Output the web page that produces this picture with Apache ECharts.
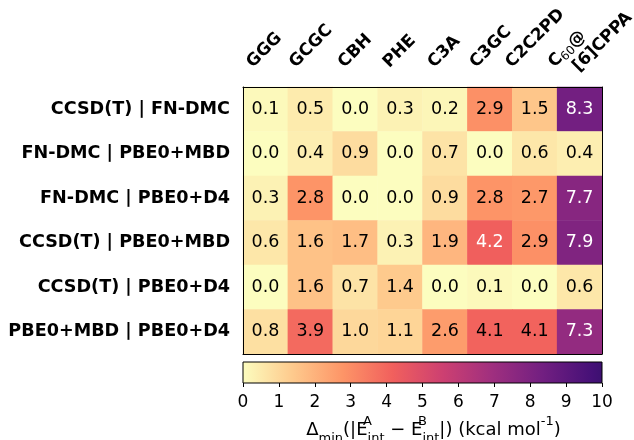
<!DOCTYPE html>
<html>
<head>
<meta charset="utf-8">
<script src="https://cdn.jsdelivr.net/npm/echarts@6/dist/echarts.min.js"></script>
<style>
  html, body { margin: 0; padding: 0; background: #fff; }
  #chart { width: 634px; height: 440px; }
</style>
</head>
<body>
<div id="chart"></div>
<script>
// systems (columns) and method pairs (rows)
const systems = ['GGG', 'GCGC', 'CBH', 'PHE', 'C3A', 'C3GC', 'C2C2PD', 'C60@[6]CPPA'];
const systemLabels = ['GGG', 'GCGC', 'CBH', 'PHE', 'C3A', 'C3GC', 'C2C2PD', 'C{sub|60}@\n{fwd|[6]CPPA}'];
const pairs = [
  'CCSD(T) | FN-DMC',
  'FN-DMC | PBE0+MBD',
  'FN-DMC | PBE0+D4',
  'CCSD(T) | PBE0+MBD',
  'CCSD(T) | PBE0+D4',
  'PBE0+MBD | PBE0+D4'
];
// delta min, kcal/mol, one row per pair
const rowCcsdDmc = [0.1, 0.5, 0.0, 0.3, 0.2, 2.9, 1.5, 8.3];
const rowDmcMbd = [0.0, 0.4, 0.9, 0.0, 0.7, 0.0, 0.6, 0.4];
const rowDmcD4 = [0.3, 2.8, 0.0, 0.0, 0.9, 2.8, 2.7, 7.7];
const rowCcsdMbd = [0.6, 1.6, 1.7, 0.3, 1.9, 4.2, 2.9, 7.9];
const rowCcsdD4 = [0.0, 1.6, 0.7, 1.4, 0.0, 0.1, 0.0, 0.6];
const rowMbdD4 = [0.8, 3.9, 1.0, 1.1, 2.6, 4.1, 4.1, 7.3];
const rows = [rowCcsdDmc, rowDmcMbd, rowDmcD4, rowCcsdMbd, rowCcsdD4, rowMbdD4];
const cbarTicks = [0, 1, 2, 3, 4, 5, 6, 7, 8, 9, 10];

// matplotlib centres the rotated labels, so nudge each one (screen px)
const labelDx = [-15.7, -18, -14, -14, -14, -17, -26, -21];
const labelDy = [0, 0, 0, 0, 0, 0, 0, 7];

// magma, from light end down; colour scale runs 0 -> 10 over magma 1.0 -> 0.2
const magma = ['#fcfdbf', '#feca8d', '#fd9567', '#f1605d', '#cd4071', '#9f2f7f', '#721f81', '#451077', '#180f3e'];
const step = 1 / (9 * 0.08);
const whiteAbove = 4.15;
const font = 'DejaVu Sans';

const data = [];
rows.forEach((row, y) => {
  row.forEach((v, x) => {
    data.push({ value: [x, y, v], label: { color: v > whiteAbove ? '#fff' : '#000' } });
  });
});

// rotated (45deg) text: move along up-left (u) and down-left (d)
const xCats = systems.map((s, i) => {
  const u = (-labelDx[i] - labelDy[i]) / Math.SQRT2;
  const d = (-labelDx[i] + labelDy[i]) / Math.SQRT2;
  return { value: s, textStyle: { padding: [0, 0, 2 * u, -d] } };
});

const gradStops = magma.slice(0, 8).map((c, i) => ({ offset: (i * step) / 10, color: c }));
gradStops.push({ offset: 1, color: '#3c1070' });

const chart = echarts.init(document.getElementById('chart'));
chart.setOption({
  animation: false,
  textStyle: { fontFamily: font },
  grid: [
    { left: 243, top: 87, width: 359, height: 267, outerBoundsMode: 'none', containLabel: false },
    {
      left: 243, top: 362, width: 359, height: 21, show: true,
      outerBoundsMode: 'none', containLabel: false,
      borderColor: '#000', borderWidth: 1,
      backgroundColor: new echarts.graphic.LinearGradient(0, 0, 1, 0, gradStops)
    }
  ],
  xAxis: [
    {
      type: 'category', gridIndex: 0, position: 'top', data: xCats, z: 5,
      axisLine: { lineStyle: { color: '#000', width: 1 } },
      axisTick: { alignWithLabel: true, length: 4, lineStyle: { color: '#000' } },
      axisLabel: {
        interval: 0, rotate: -45, margin: 22, color: '#000',
        fontFamily: font, fontWeight: 'bold', fontSize: 17, lineHeight: 20,
        formatter: (v, i) => systemLabels[i],
        rich: {
          sub: { fontSize: 12, fontWeight: 'normal', fontFamily: font, verticalAlign: 'bottom' },
          fwd: { fontSize: 17, fontWeight: 'bold', fontFamily: font, padding: [0, 0, 0, 14] }
        }
      },
      splitLine: { show: false }
    },
    {
      type: 'category', gridIndex: 0, position: 'bottom', data: systems, z: 5,
      axisLine: { lineStyle: { color: '#000', width: 1 } },
      axisTick: { show: false }, axisLabel: { show: false }
    },
    {
      type: 'value', gridIndex: 1, min: 0, max: 10, interval: 1, position: 'bottom',
      axisLine: { show: false },
      axisTick: { length: 4, lineStyle: { color: '#000' } },
      axisLabel: { margin: 11, fontSize: 17, color: '#000', fontFamily: font,
        customValues: cbarTicks },
      splitLine: { show: false },
      name: 'Δ{sub|min}(|E{supz|A}{sub|int} − E{supz|B}{sub|int}|) (kcal mol{sup|-1})',
      nameLocation: 'middle', nameGap: 32,
      nameTextStyle: {
        fontSize: 18, color: '#000', fontFamily: font, lineHeight: 30, padding: [0, 0, 0, 22],
        rich: {
          sub: { fontSize: 13, verticalAlign: 'bottom', lineHeight: 30, fontFamily: font },
          sup: { fontSize: 13, verticalAlign: 'top', lineHeight: 30, fontFamily: font },
          supz: { fontSize: 13, verticalAlign: 'top', lineHeight: 30, width: 0, align: 'left', fontFamily: font }
        }
      }
    }
  ],
  yAxis: [
    {
      type: 'category', gridIndex: 0, data: pairs, inverse: true, z: 5,
      axisLine: { lineStyle: { color: '#000', width: 1 } },
      axisTick: { alignWithLabel: true, length: 4, lineStyle: { color: '#000' } },
      axisLabel: { margin: 13, color: '#000', fontFamily: font, fontWeight: 'bold', fontSize: 17.6 },
      splitLine: { show: false }
    },
    {
      type: 'category', gridIndex: 0, position: 'right', data: pairs, inverse: true, z: 5,
      axisLine: { lineStyle: { color: '#000', width: 1 } },
      axisTick: { show: false }, axisLabel: { show: false }
    },
    { type: 'value', gridIndex: 1, min: 0, max: 1, show: false }
  ],
  visualMap: {
    show: false, type: 'continuous', min: 0, max: 8 * step, seriesIndex: 0,
    inRange: { color: magma }
  },
  series: [
    {
      type: 'heatmap', xAxisIndex: 0, yAxisIndex: 0, data: data,
      label: {
        show: true, fontSize: 17.5, fontFamily: font,
        formatter: (p) => p.value[2].toFixed(1)
      },
      emphasis: { disabled: true }
    }
  ]
});
</script>
</body>
</html>
